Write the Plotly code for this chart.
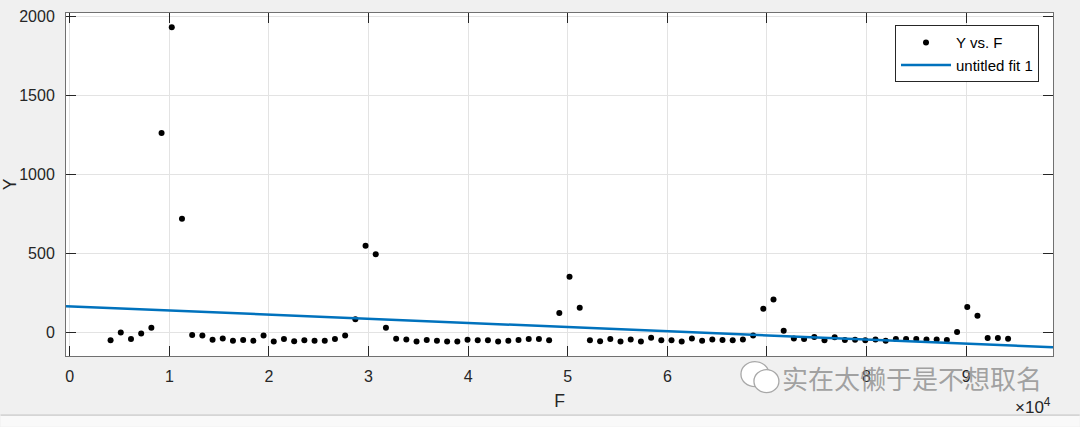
import numpy as np
import plotly.graph_objects as go

# ---- data ----
F = [4096, 5120, 6144, 7168, 8192, 9216, 10240, 11264, 12288, 13312,
     14336, 15360, 16384, 17408, 18432, 19456, 20480, 21504, 22528, 23552,
     24576, 25600, 26624, 27648, 28672, 29696, 30720, 31744, 32768, 33792,
     34816, 35840, 36864, 37888, 38912, 39936, 40960, 41984, 43008, 44032,
     45056, 46080, 47104, 48128, 49152, 50176, 51200, 52224, 53248, 54272,
     55296, 56320, 57344, 58368, 59392, 60416, 61440, 62464, 63488, 64512,
     65536, 66560, 67584, 68608, 69632, 70656, 71680, 72704, 73728, 74752,
     75776, 76800, 77824, 78848, 79872, 80896, 81920, 82944, 83968, 84992,
     86016, 87040, 88064, 89088, 90112, 91136, 92160, 93184, 94208]

Y = [-50, 0, -42, -6, 30, 1260, 1929, 719, -17, -19,
     -46, -38, -52, -48, -52, -19, -57, -42, -55, -50,
     -52, -52, -42, -19, 84, 548, 494, 30, -40, -44,
     -57, -48, -52, -57, -57, -46, -50, -50, -57, -52,
     -48, -42, -42, -50, 123, 352, 156, -50, -55, -42,
     -57, -44, -57, -34, -50, -50, -57, -38, -52, -44,
     -48, -50, -44, -19, 150, 208, 11, -38, -42, -29,
     -50, -31, -48, -46, -50, -44, -52, -42, -42, -42,
     -44, -44, -48, 2, 160, 105, -36, -36, -40]

x_tick_vals = [0, 10000, 20000, 30000, 40000, 50000, 60000, 70000, 80000, 90000]
x_tick_text = ["0", "1", "2", "3", "4", "5", "6", "7", "8", "9"]
y_tick_vals = [0, 500, 1000, 1500, 2000]
y_tick_text = ["0", "500", "1000", "1500", "2000"]

x_range = [-380, 98720]
y_range = [-149, 2019]

# linear fit (poly1) of Y vs F
p1, p2 = np.polyfit(np.array(F, float), np.array(Y, float), 1)
fit_x = np.array(x_range, float)
fit_y = p1 * fit_x + p2

fig = go.Figure()
fig.add_trace(go.Scatter(
    x=F, y=Y, mode="markers", name="Y vs. F",
    marker=dict(color="black", size=6, line=dict(width=0)),
))
fig.add_trace(go.Scatter(
    x=fit_x, y=fit_y, mode="lines", name="untitled fit 1",
    line=dict(color="#0072BD", width=2.5),
))

axis_common = dict(
    showline=True, linecolor="#707070", linewidth=1,
    mirror="ticks", ticks="inside", ticklen=10, tickcolor="#262626",
    showgrid=True, gridcolor="#e3e3e3", gridwidth=1,
    zeroline=False,
    tickfont=dict(family="Liberation Sans, Arial", size=16, color="#262626"),
)

PL, PR, PT, PB = 65.5, 1053.3, 12.7, 356.3
PW, PH = PR - PL, PB - PT


def px(x):
    return (x - PL) / PW


def py(y):
    return (PB - y) / PH


fig.update_layout(
    width=1080, height=427,
    paper_bgcolor="#f0f0f0", plot_bgcolor="white",
    margin=dict(l=PL, r=1080 - PR, t=PT, b=427 - PB, autoexpand=False),
    font=dict(family="Liberation Sans, Arial", color="#262626"),
    xaxis=dict(
        range=x_range, tickvals=x_tick_vals, ticktext=x_tick_text,
        title=dict(text="F", font=dict(size=17.6, color="#262626"), standoff=10),
        ticklabelstandoff=6,
        **axis_common,
    ),
    yaxis=dict(
        range=y_range, tickvals=y_tick_vals, ticktext=y_tick_text,
        title=dict(text="Y", font=dict(size=17.6, color="#262626"), standoff=47),
        ticklabelstandoff=7,
        **axis_common,
    ),
    legend=dict(
        x=px(1039.3), y=py(25), xanchor="right", yanchor="top",
        bgcolor="white", bordercolor="#262626", borderwidth=1,
        font=dict(family="Liberation Sans, Arial", size=15, color="#000000"),
        itemwidth=50, tracegroupgap=0,
    ),
    showlegend=True,
)

# x10^4 exponent label
fig.add_annotation(
    text="×10<sup>4</sup>", xref="paper", yref="paper",
    x=1.0, y=py(393), xanchor="right", yanchor="top", showarrow=False,
    font=dict(family="Liberation Sans, Arial", size=17, color="#262626"),
)

# window bottom strip
fig.add_shape(type="rect", xref="paper", yref="paper",
              x0=px(0), x1=px(1080), y0=py(427), y1=py(415.5),
              fillcolor="#f9f9f9", line=dict(width=0), layer="below")
fig.add_shape(type="line", xref="paper", yref="paper",
              x0=px(0), x1=px(1080), y0=py(415.5), y1=py(415.5),
              line=dict(color="#bdbdbd", width=1))

# watermark
fig.add_shape(type="circle", xref="paper", yref="paper",
              x0=px(741), x1=px(769), y0=py(387), y1=py(362),
              fillcolor="white", line=dict(color="#a8a8a8", width=1.3))
fig.add_shape(type="circle", xref="paper", yref="paper",
              x0=px(754), x1=px(779), y0=py(393), y1=py(370),
              fillcolor="white", line=dict(color="#a8a8a8", width=1.3))
fig.add_annotation(
    text="实在太懒于是不想取名", xref="paper", yref="paper",
    x=px(1044), y=py(378),
    xanchor="right", yanchor="middle", showarrow=False,
    font=dict(family="Noto Sans CJK SC", size=26, color="rgba(140,140,140,0.8)"),
)

fig.write_html("out.html", post_script="document.body.style.margin='0';",
               config={"displayModeBar": False})
